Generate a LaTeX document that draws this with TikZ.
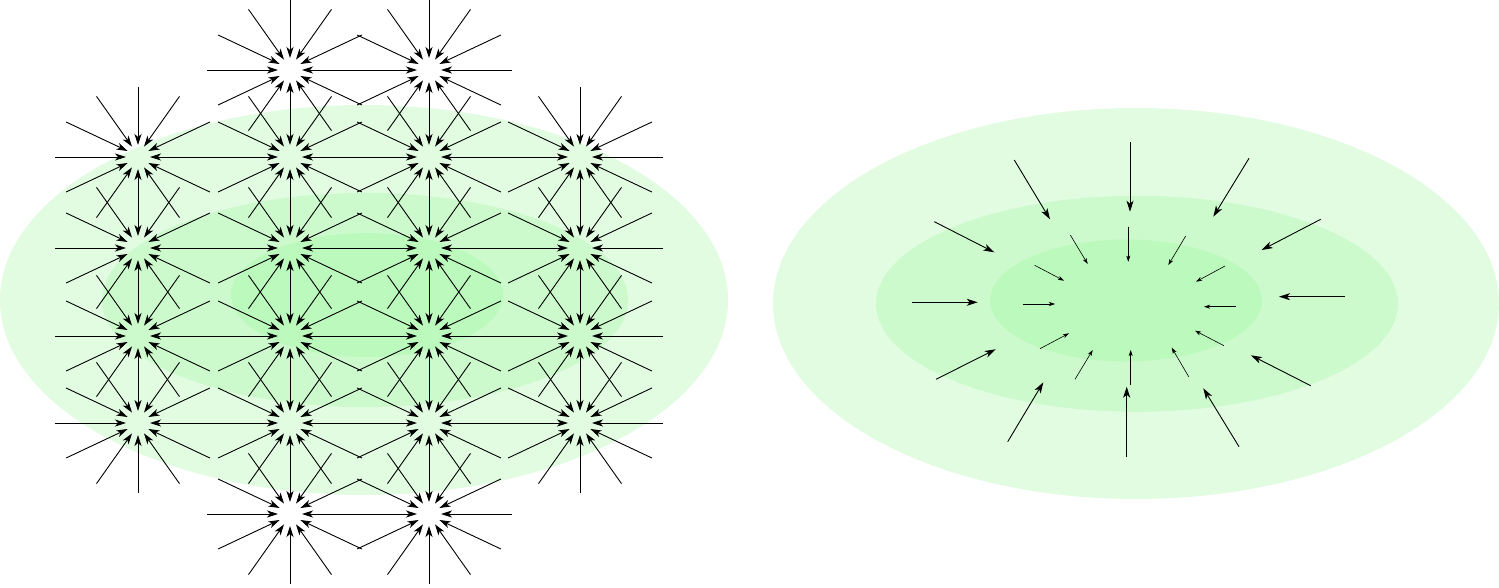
\documentclass[tikz,border=0pt]{standalone}
\usetikzlibrary{arrows.meta,calc}
\definecolor{gA}{RGB}{226,252,226}
\definecolor{gB}{RGB}{205,250,205}
\definecolor{gC}{RGB}{188,249,188}
\begin{document}
\begin{tikzpicture}[x=1pt,y=-1pt,
  arr/.style={line width=0.9pt,-{Stealth[length=11pt,width=7pt,inset=3pt]}},
  arrsmall/.style={line width=0.6pt,-{Stealth[length=6pt,width=4pt,inset=1.5pt]}}]
\useasboundingbox (0,0) rectangle (1499,588);
% ---- left: shaded ellipses
\fill[gA] (364,300) ellipse [x radius=364, y radius=195];
\fill[gB] (365,300) ellipse [x radius=263, y radius=107];
\fill[gC] (367,295) ellipse [x radius=136, y radius=62];
% ---- right: shaded ellipses
\fill[gA] (1136,303.5) ellipse [x radius=363, y radius=195.5];
\fill[gB] (1137,303.8) ellipse [x radius=261, y radius=108];
\fill[gC] (1126,300.5) ellipse [x radius=136, y radius=61];
% ---- left: lattice points
\coordinate (a1) at (290,70);  \coordinate (a2) at (429,70);
\coordinate (b1) at (138,157); \coordinate (b2) at (290,157); \coordinate (b3) at (429,157); \coordinate (b4) at (580,157);
\coordinate (c1) at (138,248); \coordinate (c2) at (290,248); \coordinate (c3) at (429,248); \coordinate (c4) at (580,248);
\coordinate (d1) at (138,336); \coordinate (d2) at (290,336); \coordinate (d3) at (429,336); \coordinate (d4) at (580,336);
\coordinate (e1) at (138,423); \coordinate (e2) at (290,423); \coordinate (e3) at (429,423); \coordinate (e4) at (580,423);
\coordinate (f1) at (290,514); \coordinate (f2) at (429,514);
\foreach \n in {a1,a2,b1,b2,b3,b4,c1,c2,c3,c4,d1,d2,d3,d4,e1,e2,e3,e4,f1,f2}{
  \foreach \t in {0,30,...,330}{
    \draw[arr] ($(\n)+({83*cos(\t)},{70*sin(\t)})$) -- ($(\n)+({12*cos(\t)},{12*sin(\t)})$);
  }
}
% ---- right: outer ring of arrows
\foreach \sx/\sy/\ex/\ey in {
  1130/142.3/1130/211.7,
  1014.3/160/1050/219.3,
  1249/158.3/1213.3/216.7,
  934.3/221.7/994.3/252.3,
  1320.7/219.3/1261.7/250,
  911.7/302.3/977.7/302.3,
  1345/296.7/1279/296.7,
  936/379.3/995.7/349.3,
  1310.7/385.7/1251/355.3,
  1007.7/441.7/1043.3/382.3,
  1126.7/457.3/1126.7/386.7,
  1239/446.7/1203.3/388.3}{
  \draw[arr] (\sx,\sy) -- (\ex,\ey);
}
% ---- right: inner ring of arrows
\foreach \sx/\sy/\ex/\ey in {
  1128.3/226.7/1128.3/261.7,
  1070.3/235/1087.7/264,
  1185.7/236/1168.3/265,
  1034.7/265.3/1064/280.7,
  1225/266/1196/281.7,
  1022.7/304/1055/304,
  1236/306.7/1204/306.7,
  1040/348.7/1069/333.3,
  1224/345.7/1195/330.7,
  1075/379.3/1092.7/350,
  1130.7/385/1130.7/350,
  1188.7/376.7/1171.7/347.7}{
  \draw[arrsmall] (\sx,\sy) -- (\ex,\ey);
}
\end{tikzpicture}
\end{document}
